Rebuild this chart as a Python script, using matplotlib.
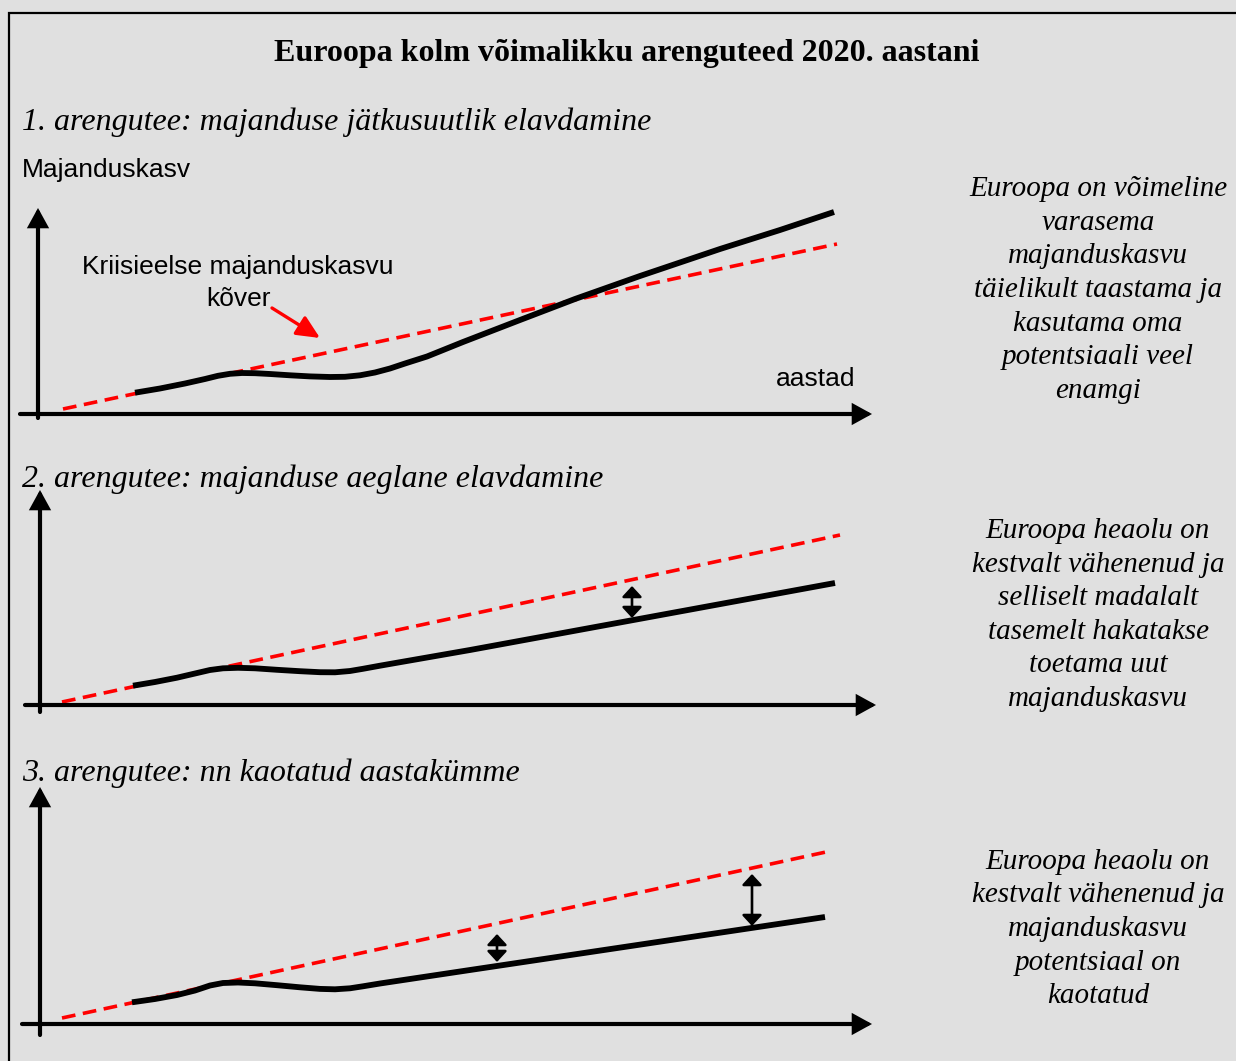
import matplotlib
matplotlib.use("Agg")
import matplotlib.pyplot as plt
from matplotlib.patches import Rectangle

W, H = 1236, 1061
BG = "#e0e0e0"

# curve data, units = 10 px from the axis origin of each panel
# panel 1
p1_bx = [9.7, 12.2, 14.7, 16.7, 18.0, 19.2, 20.4, 21.7, 23.2, 25.2, 27.2, 29.2, 30.7, 32.2,
         33.7, 35.2, 36.7, 38.9, 42.5, 48.2, 53.7, 60.2, 68.2, 74.2, 79.6]
p1_by = [2.13, 2.55, 3.05, 3.5, 3.82, 4.02, 4.1, 4.08, 4.0, 3.87, 3.76, 3.7, 3.72, 3.87,
         4.15, 4.55, 5.05, 5.75, 7.2, 9.4, 11.5, 13.8, 16.5, 18.4, 20.2]
p1_rx = [2.5, 79.9]
p1_ry = [0.5, 17.0]

# panel 2
p2_bx = [9.3, 11.5, 13.7, 15.5, 17.0, 18.3, 19.8, 21.5, 23.7, 26.0, 28.0, 29.5, 31.0, 32.3,
         34.0, 36.0, 43.0, 79.5]
p2_by = [1.93, 2.3, 2.73, 3.15, 3.5, 3.67, 3.72, 3.67, 3.52, 3.38, 3.28, 3.27, 3.4, 3.62,
         3.93, 4.28, 5.5, 12.2]
p2_rx = [2.2, 80.0]
p2_ry = [0.3, 17.0]
p2_gap_x = [59.2]
p2_gap_top = [11.9]
p2_gap_bot = [8.7]

# panel 3
p3_bx = [9.2, 11.5, 13.7, 15.5, 17.0, 18.3, 19.8, 21.5, 23.7, 26.0, 28.0, 29.5, 31.0, 32.3,
         34.0, 36.0, 43.0, 78.5]
p3_by = [2.17, 2.5, 2.9, 3.35, 3.85, 4.1, 4.15, 4.07, 3.88, 3.67, 3.51, 3.47, 3.57, 3.77,
         4.05, 4.35, 5.4, 10.7]
p3_rx = [2.2, 78.6]
p3_ry = [0.6, 17.2]
p3_gap_x = [45.7, 71.2]
p3_gap_top = [9.0, 15.0]
p3_gap_bot = [6.2, 9.8]

title = "Euroopa kolm võimalikku arenguteed 2020. aastani"
subtitles = ["1. arengutee: majanduse jätkusuutlik elavdamine",
             "2. arengutee: majanduse aeglane elavdamine",
             "3. arengutee: nn kaotatud aastakümme"]
notes = ["Euroopa on võimeline\nvarasema\nmajanduskasvu\ntäielikult taastama ja\nkasutama oma\npotentsiaali veel\nenamgi",
         "Euroopa heaolu on\nkestvalt vähenenud ja\nselliselt madalalt\ntasemelt hakatakse\ntoetama uut\nmajanduskasvu",
         "Euroopa heaolu on\nkestvalt vähenenud ja\nmajanduskasvu\npotentsiaal on\nkaotatud"]

fig = plt.figure(figsize=(W / 100, H / 100), dpi=100)
fig.patch.set_facecolor(BG)


def fx(x):
    return x / W


def fy(y):
    return 1 - y / H


# frame
fig.patches.append(Rectangle((fx(9), fy(1070)), fx(1240), fy(13) - fy(1070),
                             transform=fig.transFigure, fill=False,
                             edgecolor="black", linewidth=1.6))

AXHEAD = "-|>,head_length=1.0,head_width=0.55"


def panel(ox, oy, ytop, ybot, xleft, xright, bx, by, rx, ry):
    ax = fig.add_axes([fx(ox - 30), fy(oy + 20), 890 / W, 270 / H])
    ax.set_xlim(-3, 86)
    ax.set_ylim(-2, 25)
    ax.axis("off")
    ax.patch.set_alpha(0)
    # axes with arrows
    ax.annotate("", xy=(0, ytop), xytext=(0, ybot),
                arrowprops=dict(arrowstyle=AXHEAD, mutation_scale=10, color="black",
                                lw=3.0, shrinkA=0, shrinkB=0, joinstyle="miter"))
    ax.annotate("", xy=(xright, 0), xytext=(xleft, 0),
                arrowprops=dict(arrowstyle=AXHEAD, mutation_scale=10, color="black",
                                lw=3.0, shrinkA=0, shrinkB=0, joinstyle="miter"))
    ax.plot(rx, ry, color="#ff0000", lw=2.6, dashes=(3.8, 2.1))
    ax.plot(bx, by, color="black", lw=4.2, solid_capstyle="butt", solid_joinstyle="round")
    return ax


ax1 = panel(38, 414, 20.6, -0.4, -1.8, 83.4, p1_bx, p1_by, p1_rx, p1_ry)
ax1.annotate("", xy=(28.2, 7.6), xytext=(23.4, 10.6),
             arrowprops=dict(arrowstyle="-|>,head_length=1.4,head_width=0.65",
                             mutation_scale=10, color="#ff0000", lw=2.4,
                             shrinkA=0, shrinkB=0))

ax2 = panel(40, 705, 21.5, -0.7, -1.5, 83.6, p2_bx, p2_by, p2_rx, p2_ry)
ax3 = panel(40, 1024, 23.7, -1.1, -1.8, 83.2, p3_bx, p3_by, p3_rx, p3_ry)

for ax, gx, gt, gb in [(ax2, p2_gap_x, p2_gap_top, p2_gap_bot),
                       (ax3, p3_gap_x, p3_gap_top, p3_gap_bot)]:
    for x, t, b in zip(gx, gt, gb):
        ax.annotate("", xy=(x, t), xytext=(x, b),
                    arrowprops=dict(arrowstyle="<|-|>,head_length=0.65,head_width=0.6",
                                    mutation_scale=10, color="black", lw=1.9,
                                    shrinkA=0, shrinkB=0))

serif = "Liberation Serif"
sans = "Liberation Sans"

fig.text(fx(627), fy(53), title, family=serif, weight="bold", fontsize=23,
         ha="center", va="center")
for y, s in zip([122, 479, 773], subtitles):
    fig.text(fx(22), fy(y), s, family=serif, style="italic", fontsize=23,
             ha="left", va="center")

fig.text(fx(22), fy(170), "Majanduskasv", family=sans, fontsize=19, ha="left", va="center")
fig.text(fx(238), fy(267), "Kriisieelse majanduskasvu", family=sans, fontsize=19,
         ha="center", va="center")
fig.text(fx(238), fy(299), "kõver", family=sans, fontsize=19, ha="center", va="center")
fig.text(fx(855), fy(379), "aastad", family=sans, fontsize=19, ha="right", va="center")

for y, s in zip([290, 615, 929], notes):
    fig.text(fx(1098), fy(y), s, family=serif, style="italic", fontsize=21,
             ha="center", va="center", linespacing=1.38, multialignment="center")

fig.savefig("out.png", dpi=100, facecolor=BG)
